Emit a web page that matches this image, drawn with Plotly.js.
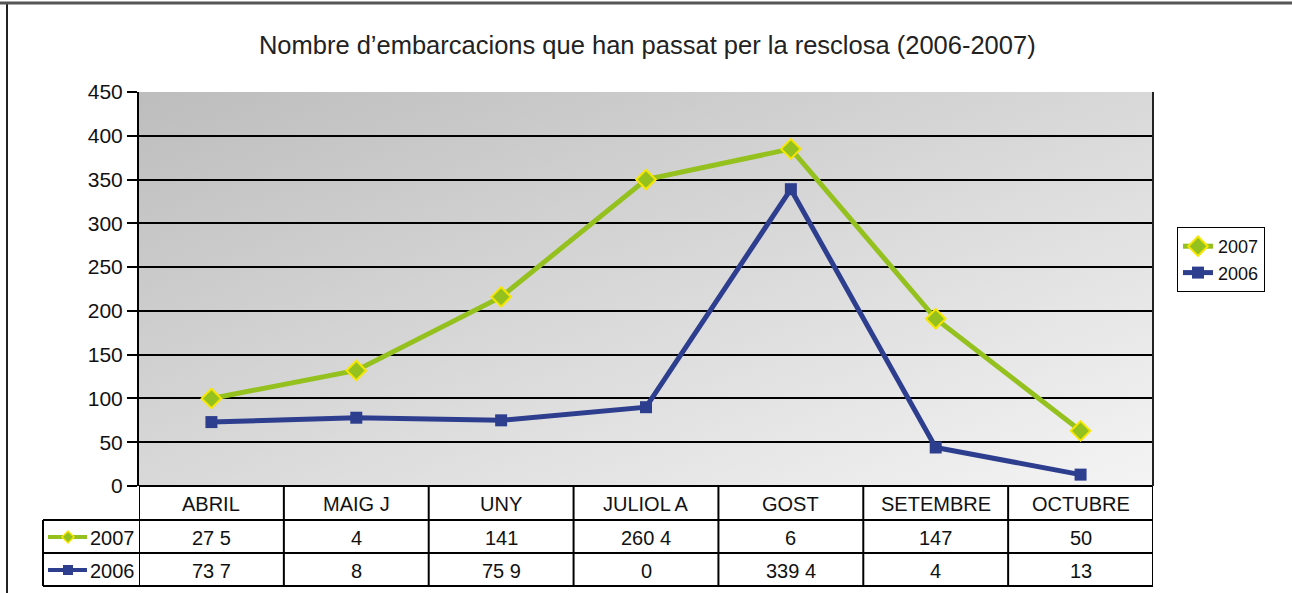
<!DOCTYPE html>
<html>
<head>
<meta charset="utf-8">
<script src="https://cdn.plot.ly/plotly-3.0.1.min.js"></script>
<style>html,body{margin:0;padding:0;background:#fff;}#chart{width:1292px;height:593px;}</style>
</head>
<body>
<div id="chart"></div>
<script>
// ---- data ----
const categories = ["ABRIL", "MAIG J", "UNY", "JULIOL A", "GOST", "SETEMBRE", "OCTUBRE"];
const values2007 = [100, 132, 216, 350, 385, 191, 63];
const values2006 = [73, 78, 75, 90, 339, 44, 13];
const tableRow2007 = ["27 5", "4", "141", "260 4", "6", "147", "50"];
const tableRow2006 = ["73 7", "8", "75 9", "0", "339 4", "4", "13"];
const seriesNames = ["2007", "2006"];
const yTicks = [0, 50, 100, 150, 200, 250, 300, 350, 400, 450];

// ---- geometry helpers ----
const W = 1292, H = 593;
const PL = 139, PR = 1153, PT = 92, PB = 486;
const pw = PR - PL, ph = PB - PT;
const px = v => (v - PL) / pw;
const py = v => (PB - v) / ph;

const green = "#95C11F", yellow = "#F7E600", blue = "#2E3E8F";
const font = "Liberation Sans, Arial, Helvetica, sans-serif";
const fs = 20;

const idx = categories.map((c, i) => i);

const traces = [
  {
    x: idx, y: values2007, name: seriesNames[0], type: "scatter", mode: "lines+markers",
    line: {color: green, width: 5},
    marker: {symbol: "diamond", size: 15, color: green, line: {color: yellow, width: 2}},
    cliponaxis: false
  },
  {
    x: idx, y: values2006, name: seriesNames[1], type: "scatter", mode: "lines+markers",
    line: {color: blue, width: 5},
    marker: {symbol: "square", size: 12, color: blue, line: {color: blue, width: 0}},
    cliponaxis: false
  }
];

// table structure
const shapes = [];
const annotations = [];
const yRowTop2007 = py(520), yRow2006Top = py(553), yBottom = py(586);
const xLabelLeft = px(43);
for (let i = 0; i <= categories.length; i++) {
  shapes.push({type: "line", xref: "x", yref: "paper", x0: i - 0.5, x1: i - 0.5, y0: 0, y1: yBottom,
    line: {color: "#000", width: 2}});
}
[yRowTop2007, yRow2006Top, yBottom].forEach(y => {
  shapes.push({type: "line", xref: "paper", yref: "paper", x0: xLabelLeft, x1: 1, y0: y, y1: y,
    line: {color: "#000", width: 2}});
});
shapes.push({type: "line", xref: "paper", yref: "paper", x0: xLabelLeft, x1: xLabelLeft, y0: yRowTop2007, y1: yBottom,
  line: {color: "#000", width: 2}});

categories.forEach((c, i) => {
  annotations.push({xref: "x", yref: "paper", x: i, y: py(504), text: c, showarrow: false,
    font: {family: font, size: fs, color: "#111"}, xanchor: "center", yanchor: "middle"});
  annotations.push({xref: "x", yref: "paper", x: i, y: py(538), text: tableRow2007[i], showarrow: false,
    font: {family: font, size: fs, color: "#111"}, xanchor: "center", yanchor: "middle"});
  annotations.push({xref: "x", yref: "paper", x: i, y: py(571), text: tableRow2006[i], showarrow: false,
    font: {family: font, size: fs, color: "#111"}, xanchor: "center", yanchor: "middle"});
});

[[537, green, seriesNames[0]], [570, blue, seriesNames[1]]].forEach(([yy, col, name], k) => {
  shapes.push({type: "line", xref: "paper", yref: "paper", x0: px(48), x1: px(87), y0: py(yy), y1: py(yy),
    line: {color: col, width: 4}});
  if (k === 0) {
    shapes.push({type: "path", xref: "paper", yref: "paper",
      path: `M ${px(68)} ${py(yy - 6)} L ${px(74)} ${py(yy)} L ${px(68)} ${py(yy + 6)} L ${px(62)} ${py(yy)} Z`,
      fillcolor: green, line: {color: yellow, width: 1.5}});
  } else {
    shapes.push({type: "rect", xref: "paper", yref: "paper", x0: px(63), x1: px(73), y0: py(yy - 5), y1: py(yy + 5),
      fillcolor: blue, line: {color: blue, width: 0}});
  }
  annotations.push({xref: "paper", yref: "paper", x: px(137), y: py(yy + 1), text: name, showarrow: false,
    font: {family: font, size: fs, color: "#111"}, xanchor: "right", yanchor: "middle"});
});

// outer frame
shapes.push({type: "line", xref: "paper", yref: "paper", x0: px(7), x1: px(7), y0: py(3), y1: py(600),
  line: {color: "#222", width: 2}});
shapes.push({type: "line", xref: "paper", yref: "paper", x0: px(0), x1: px(1292), y0: py(3), y1: py(3),
  line: {color: "#555", width: 3}});
shapes.push({type: "line", xref: "paper", yref: "paper", x0: 1, x1: 1, y0: 0, y1: 1,
  line: {color: "#222", width: 2}});

const svg = `<svg xmlns='http://www.w3.org/2000/svg' width='100' height='100' preserveAspectRatio='none'><defs><linearGradient id='g' x1='0' y1='0' x2='1' y2='1'><stop offset='0' stop-color='#bdbdbd'/><stop offset='1' stop-color='#f4f4f4'/></linearGradient></defs><rect width='100' height='100' fill='url(#g)'/></svg>`;
const bgUri = "data:image/svg+xml;base64," + btoa(svg);

const layout = {
  width: W, height: H,
  margin: {l: PL, r: W - PR, t: PT, b: H - PB, pad: 0},
  paper_bgcolor: "#fff",
  plot_bgcolor: "rgba(0,0,0,0)",
  font: {family: font, size: fs, color: "#111"},
  title: {text: "Nombre d\u2019embarcacions que han passat per la resclosa (2006-2007)",
    font: {family: font, size: 25.5, color: "#222"}, x: 0.501, xanchor: "center", y: 1 - 45 / H, yanchor: "middle"},
  xaxis: {range: [-0.5, categories.length - 0.5], showticklabels: false, showgrid: false, zeroline: false,
    showline: false, ticks: "", fixedrange: true},
  yaxis: {range: [0, 450], tickvals: yTicks, ticktext: yTicks.map(String), showgrid: true, gridcolor: "#000", gridwidth: 2,
    zeroline: true, zerolinecolor: "#000", zerolinewidth: 2,
    showline: true, linecolor: "#000", linewidth: 2, ticks: "outside", ticklen: 10, tickcolor: "#000", tickwidth: 2,
    tickfont: {family: font, size: 21, color: "#111"}, fixedrange: true},
  showlegend: true,
  legend: {x: px(1177), xanchor: "left", y: py(227), yanchor: "top", bordercolor: "#000", borderwidth: 1,
    bgcolor: "#fff", font: {family: font, size: 18, color: "#111"}, traceorder: "normal",
    itemwidth: 30, tracegroupgap: 0},
  images: [{source: bgUri, xref: "paper", yref: "paper", x: 0, y: 1, sizex: 1, sizey: 1,
    xanchor: "left", yanchor: "top", sizing: "stretch", layer: "below"}],
  shapes: shapes,
  annotations: annotations
};

Plotly.newPlot("chart", traces, layout, {displayModeBar: false, staticPlot: true});
</script>
</body>
</html>
